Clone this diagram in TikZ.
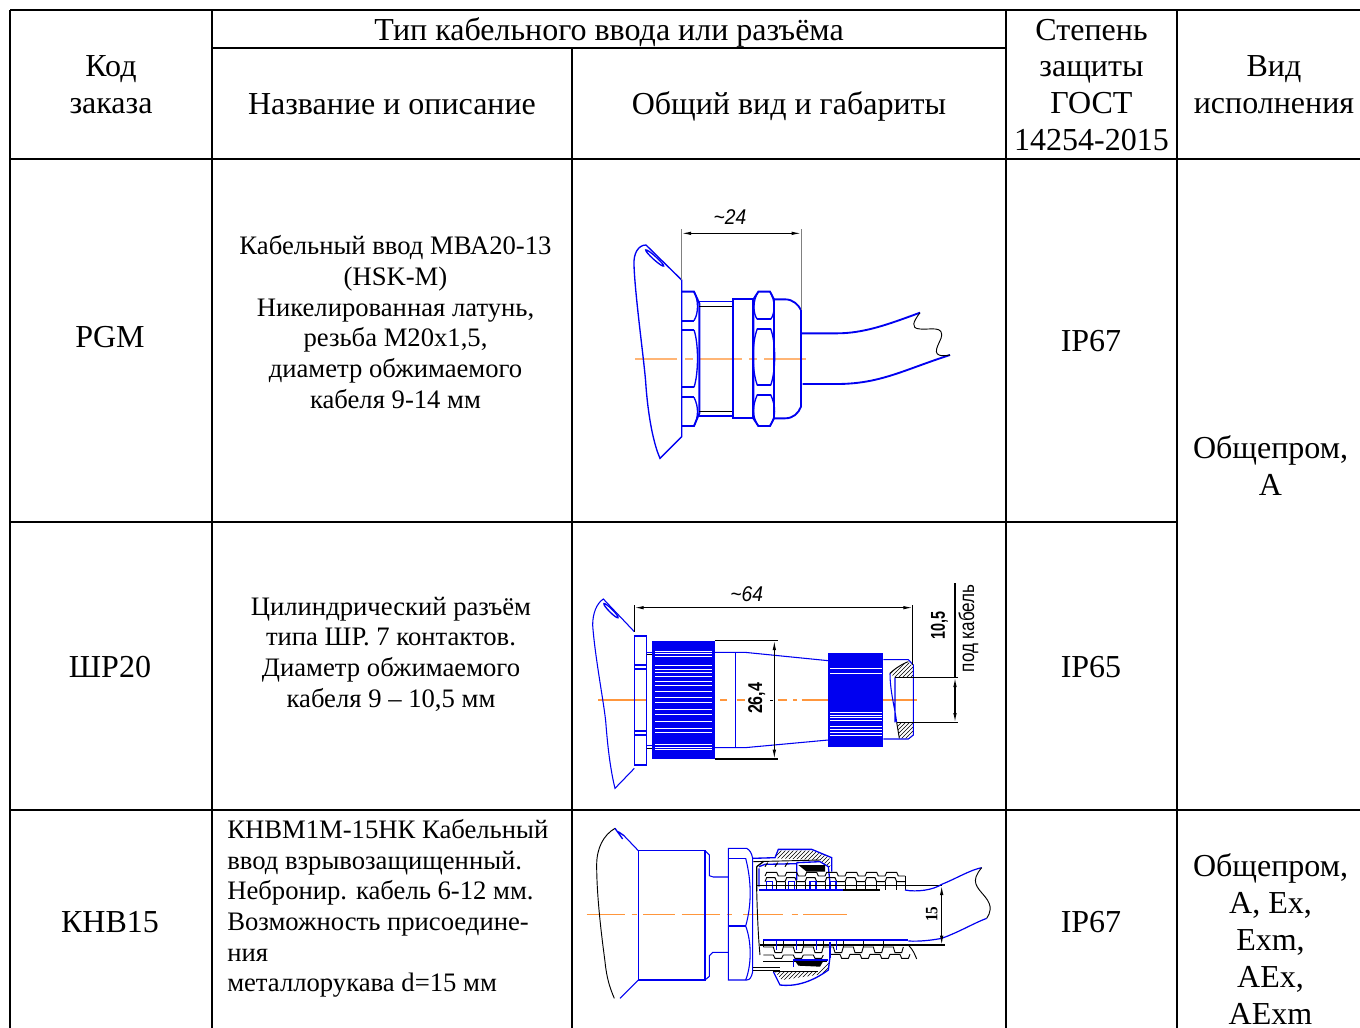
\documentclass[tikz,border=0pt]{standalone}
\usepackage{fontspec}
\setmainfont{Liberation Serif}
\setsansfont{Liberation Sans}
\usetikzlibrary{arrows.meta, patterns}
\definecolor{cadblue}{RGB}{0, 0, 240}
\definecolor{axisorange}{RGB}{255, 150, 60}
\tikzset{
    headtext/.style={align=center, inner sep=0pt, font=\fontsize{24}{27.7}\selectfont},
    celltext/.style={align=center, inner sep=0pt, font=\fontsize{20}{23}\selectfont},
    dimtext/.style={inner sep=0pt, font=\sffamily\itshape\fontsize{14}{14}\selectfont},
    dimupright/.style={inner sep=0pt, rotate=90, xscale=0.8, font=\sffamily\fontsize{16}{16}\selectfont},
    rule/.style={line width=1.4pt, black},
    cadline/.style={draw=cadblue, line width=1.4pt},
    cadmid/.style={draw=cadblue, line width=1pt},
    cadthin/.style={draw=cadblue, line width=0.8pt},
    blackthin/.style={draw=black, line width=0.7pt},
    dimline/.style={draw=black, line width=0.8pt, {Latex[length=7pt,width=2.6pt]}-{Latex[length=7pt,width=2.6pt]}},
    axis/.style={draw=axisorange, line width=0.8pt}
}
\begin{document}
\begin{tikzpicture}[x=0.75pt, y=-0.75pt]
    \useasboundingbox (0,0) rectangle (1360,1028);

    % Table rules
    \foreach \x/\ya in {10/10, 212/10, 572/48, 1006/10, 1177/10} {
        \draw[rule] (\x,\ya) -- (\x,1028);
    }
    \draw[rule] (10,10) -- (1360,10);
    \draw[rule] (212,48) -- (1006,48);
    \draw[rule] (10,159) -- (1360,159);
    \draw[rule] (10,522) -- (1177,522);
    \draw[rule] (10,810) -- (1360,810);

    % Header
    \node[headtext] (code) at (111,85) {Код\\заказа};
    \node[headtext] (type) at (609,32) {Тип кабельного ввода или разъёма};
    \node[headtext] (name) at (392,104) {Название и описание};
    \node[headtext] (view) at (789,106) {Общий вид и габариты};
    \node[headtext] (grade) at (1091.5,85) {Степень\\защиты\\ГОСТ\\14254-2015};
    \node[headtext] (exec) at (1274,85) {Вид\\исполнения};

    % Left column, right columns
    \node[headtext] (pgm) at (110,337) {PGM};
    \node[headtext] (shr) at (110,667) {ШР20};
    \node[headtext] (knv) at (110,922) {КНВ15};
    \node[headtext] (ipa) at (1091,341) {IP67};
    \node[headtext] (ipb) at (1091,667) {IP65};
    \node[headtext] (ipc) at (1091,922) {IP67};
    \node[headtext] (execa) at (1270.5,466) {Общепром,\\А};
    \node[headtext] (execb) at (1270.5,939) {Общепром,\\А, Ex,\\Exm,\\AEx,\\AExm};

    % Descriptions
    \node[celltext] (pgmtext) at (395.5,322) {Кабельный ввод МВА20-13\\(HSK-M)\\Никелированная латунь,\\резьба М20х1,5,\\диаметр обжимаемого\\кабеля 9-14 мм};
    \node[celltext] (shrtext) at (391,654) {Цилиндрический разъём\\типа ШР. 7 контактов.\\Диаметр обжимаемого\\кабеля 9 – 10,5 мм};
    \node[celltext, align=left, anchor=west] (knvtext) at (227,908.5) {КНВМ1М-15НК Кабельный\\ввод взрывозащищенный.\\Небронир. кабель 6-12 мм.\\Возможность присоедине-\\ния\\металлорукава d=15 мм};

    % Drawing PGM
    \begin{scope}[shift={(620,200)}, x=0.25pt, y=-0.25pt]
        \foreach \xa/\xb in {45/170, 195/218, 240/365, 388/410, 432/557} {
            \draw[axis, draw=axisorange!70] (\xa,477) -- (\xb,477);
        }
        \draw[cadmid] (185,240) -- (78,135) .. controls (55,135) and (40,160) .. (42,195)
            .. controls (45,290) and (75,500) .. (78,560) .. controls (85,650) and (100,730) .. (120,775) -- (185,710) -- cycle;
        \draw[cadmid, rotate around={-42:(104,174)}] (104,174) ellipse (36 and 5);
        % First nut
        \draw[cadline] (185,275) -- (222,275) -- (238,310) -- (238,640) -- (222,678) -- (185,678);
        \draw[cadline] (185,362) -- (222,362) (185,390) -- (222,390) (185,562) -- (222,562) (185,592) -- (222,592);
        \draw[cadmid] (222,275) .. controls (236,300) and (236,340) .. (222,362);
        \draw[cadmid] (222,390) .. controls (236,430) and (236,520) .. (222,562);
        \draw[cadmid] (222,592) .. controls (236,620) and (236,650) .. (222,678);
        % Thread
        \draw[cadmid] (238,305) -- (340,305) (238,648) -- (340,648);
        \draw[blackthin] (238,318) -- (340,318) (238,634) -- (340,634);
        % Collar and second nut
        \draw[cadline] (340,298) rectangle (400,655);
        \draw[cadline] (415,275) -- (450,275) -- (462,298) -- (462,655) -- (450,678) -- (415,678) -- (400,655) -- (400,298) -- cycle;
        \draw[cadline] (412,358) -- (452,358) (412,386) -- (452,386) (412,556) -- (452,556) (412,584) -- (452,584);
        \draw[cadmid] (415,275) .. controls (398,300) and (398,340) .. (412,358) (450,275) .. controls (466,300) and (466,340) .. (452,358);
        \draw[cadmid] (412,386) .. controls (395,430) and (395,510) .. (412,556) (452,386) .. controls (468,430) and (468,510) .. (452,556);
        \draw[cadmid] (412,584) .. controls (396,620) and (396,650) .. (415,678) (452,584) .. controls (468,620) and (468,650) .. (450,678);
        % Dome and cable
        \draw[cadline] (462,298) -- (495,298) .. controls (520,298) and (535,315) .. (543,330) -- (543,620)
            .. controls (535,640) and (520,655) .. (495,655) -- (462,655);
        \draw[cadline] (543,400) -- (650,400) .. controls (730,400) and (800,375) .. (900,338);
        \draw[cadline] (548,552) -- (650,552) .. controls (780,552) and (850,510) .. (990,465);
        \draw[blackthin] (900,338) .. controls (880,365) and (870,385) .. (900,387) .. controls (930,390) and (975,375) .. (963,415)
            .. controls (950,445) and (930,475) .. (990,465);
        % Dimension
        \draw[draw=gray, line width=0.7pt] (185,88) -- (185,240) (543,88) -- (543,330);
        \draw[dimline] (185,100) -- (543,100);
        \node[dimtext, xscale=0.9, font=\sffamily\itshape\fontsize{16}{16}\selectfont] (dima) at (330,52) {\~{}24};
    \end{scope}

    % Drawing SHR
    \begin{scope}[shift={(580,575)}, x=0.25pt, y=-0.25pt]
        \foreach \xa/\xb in {55/197, 420/440, 470/495, 595/620, 640/650, 665/745, 910/1012} {
            \draw[axis] (\xa,375) -- (\xb,375);
        }
        \draw[cadthin] (163,170) -- (70,72) .. controls (50,85) and (38,115) .. (38,150)
            .. controls (45,250) and (75,400) .. (78,450) .. controls (85,540) and (95,600) .. (105,640) -- (163,580);
        \draw[cadmid, rotate around={-45:(93,107)}] (93,107) ellipse (30 and 5);
        % Flange
        \draw[cadthin] (163,183) rectangle (200,570);
        \foreach \y in {270,282,468,480} {
            \draw[cadthin] (163,\y) -- (200,\y);
        }
        \draw[cadthin] (200,232) -- (217,232) (200,512) -- (217,512);
        \draw[blackthin] (200,238) -- (217,238) (200,520) -- (217,520);
        % Knurled nut
        \fill[cadblue] (217,197) rectangle (405,552);
        \foreach \y in {228,236,245,272,284,292,305,318,332,350,368,382,403,418,438,460,472,508,516,524} {
            \draw[white, line width=0.7pt] (225,\y) -- (395,\y);
        }
        \draw[cadthin] (405,232) -- (495,232) -- (745,257);
        \draw[cadthin] (405,518) -- (495,518) -- (745,495);
        \draw[cadthin] (467,232) -- (467,518);
        \draw[blackthin, line width=0.8pt] (405,197) -- (595,197) (405,552) -- (595,552);
        \draw[dimline] (583,197) -- (583,552);
        \draw[blackthin] (570,375) -- (580,375);
        % Second knurled nut
        \fill[cadblue] (745,235) rectangle (910,515);
        \foreach \y in {280,296,412,420,427,435,455,463,472,482} {
            \draw[white, line width=0.7pt] (750,\y) -- (905,\y);
        }
        % End cap
        \fill[pattern=north east lines] (930,295) .. controls (945,280) and (970,265) .. (985,260) -- (1000,275) -- (1000,308) -- (945,308) -- cycle;
        \fill[pattern=north east lines] (950,442) -- (1000,442) -- (1000,480) -- (990,490) -- (958,490) -- cycle;
        \draw[cadthin] (910,254) -- (985,254) -- (1000,270) -- (1000,480) -- (985,492) -- (910,492);
        \draw[cadthin] (930,295) .. controls (930,350) and (945,400) .. (950,442) (945,308) -- (945,442);
        \draw[blackthin] (930,295) .. controls (945,280) and (970,265) .. (985,260) (958,490) -- (950,442);
        % Dimensions
        \draw[blackthin, line width=0.8pt] (163,90) -- (163,170) (998,90) -- (998,270);
        \draw[dimline] (163,98) -- (998,98);
        \draw[blackthin, line width=0.8pt] (945,308) -- (1135,308) (950,442) -- (1135,442) (1125,25) -- (1125,308);
        \draw[dimline] (1125,308) -- (1125,442);
        \node[dimtext, xscale=0.9, font=\sffamily\itshape\fontsize{16}{16}\selectfont] (dimb) at (500,58) {\~{}64};
        \node[dimupright, font=\sffamily\bfseries\fontsize{15}{15}\selectfont] (dimc) at (530,370) {26,4};
        \node[dimupright, xscale=0.9, font=\sffamily\bfseries\fontsize{15}{15}\selectfont] (dimd) at (1078,150) {10,5};
        \node[dimupright] (dime) at (1165,160) {под кабель};
    \end{scope}

    % Drawing KNV
    \begin{scope}[shift={(580,815)}, x=0.25pt, y=-0.25pt]
        \foreach \xa/\xb in {20/135, 155/170, 190/285, 305/420, 440/455, 490/610, 635/655, 670/800} {
            \draw[axis] (\xa,298) -- (\xb,298);
        }
        % Lever
        \draw[blackthin] (105,40) .. controls (70,60) and (50,100) .. (50,150) .. controls (50,260) and (70,400) .. (75,440) .. controls (80,490) and (90,520) .. (103,550);
        \draw[cadthin] (130,60) -- (175,107) (120,550) -- (175,495);
        \draw[cadmid] (105,40) -- (128,72) (115,50) -- (132,62);
        % Body
        \draw[cadthin] (175,107) rectangle (375,495);
        \draw[cadthin] (375,107) -- (388,120) -- (388,182) -- (400,186) -- (445,186);
        \draw[cadthin] (375,495) -- (388,484) -- (388,422) -- (398,412) -- (445,412);
        % Hex nut
        \draw[cadthin] (445,100) -- (500,100) .. controls (510,105) and (515,115) .. (518,130) -- (518,470)
            .. controls (515,485) and (510,495) .. (500,495) -- (445,495) -- cycle;
        \draw[cadthin] (445,130) -- (497,130) (445,333) -- (497,333);
        \draw[cadthin] (497,130) .. controls (515,200) and (515,270) .. (497,333) .. controls (515,380) and (515,450) .. (497,495);
        % Coupling nut, top
        \fill[pattern=north east lines] (585,130) -- (595,107) -- (695,107) -- (748,127) -- (752,160) -- (720,135) -- cycle;
        \draw[cadmid] (518,130) -- (585,128) -- (595,103) -- (695,103) -- (755,128) -- (755,170);
        \draw[blackthin] (520,140) -- (720,135);
        \draw[cadmid] (650,143) -- (720,140) -- (745,155) -- (750,205) (650,143) -- (650,195);
        \draw[blackthin, line width=1pt] (530,155) -- (550,140) (530,155) -- (530,228);
        \draw[cadmid] (537,155) -- (555,148) -- (650,146) (537,160) -- (537,215);
        \foreach \x in {555,585,615} {
            \draw[blackthin] (\x,155) -- (\x+8,143);
        }
        \fill[black] (655,150) -- (735,150) -- (735,170) -- (680,170) -- cycle;
        % Coupling nut, bottom
        \fill[pattern=north east lines] (585,470) -- (715,470) -- (750,440) -- (742,470) -- (710,480) -- (605,495) -- cycle;
        \draw[cadmid] (580,470) -- (600,510) .. controls (640,515) and (690,505) .. (745,465) -- (750,425);
        \draw[blackthin] (518,458) -- (600,458) (518,467) -- (600,467) (550,438) -- (740,438) (580,470) -- (715,470);
        \draw[cadmid] (640,435) -- (745,435) (640,435) -- (640,455);
        \fill[black] (645,438) -- (730,438) -- (720,455) -- (655,452) -- cycle;
        % Corrugated hose, top
        \foreach \x in {555,615,675,735,795,855,915} {
            \draw[blackthin] (\x,183) -- (\x+5,172) -- (\x+35,172) -- (\x+40,183) -- (\x+60,183);
            \draw[blackthin] (\x,200) -- (\x+5,188) -- (\x+30,188) -- (\x+35,200) -- (\x+60,200);
            \draw[blackthin] (\x+35,200) -- (\x+35,226) (\x+60,200) -- (\x+60,226);
        }
        \draw[blackthin] (975,183) -- (975,212);
        \draw[cadmid] (537,225) -- (790,225);
        \foreach \x in {560,625,690,750} {
            \draw[cadmid] (\x,200) rectangle (\x+18,225);
        }
        % Cable
        \draw[blackthin, line width=0.8pt] (530,212) -- (1085,212) (540,390) -- (1095,390) (790,225) -- (900,225);
        \draw[cadthin, line width=0.9pt] (975,225) .. controls (1010,232) and (1060,225) .. (1085,208) .. controls (1130,190) and (1170,165) .. (1205,158);
        \draw[cadthin, line width=0.9pt] (985,378) .. controls (1020,380) and (1060,375) .. (1085,370) .. controls (1140,350) and (1180,325) .. (1220,310);
        \draw[blackthin] (1205,158) .. controls (1170,200) and (1190,215) .. (1215,245) .. controls (1240,275) and (1230,295) .. (1220,310);
        \draw[blackthin] (530,225) .. controls (532,300) and (535,370) .. (540,420);
        \draw[cadthin] (518,130) -- (518,470);
        % Corrugated hose, bottom
        \draw[cadmid] (550,375) -- (985,375);
        \foreach \x in {550,610,670,730,790,850,910} {
            \draw[blackthin] (\x,396) -- (\x+30,396) -- (\x+35,413) -- (\x+55,413) -- (\x+60,396);
            \draw[blackthin] (\x,378) -- (\x,396);
        }
        \foreach \x in {550,610,670} {
            \draw[blackthin] (\x,420) -- (\x+30,420) -- (\x+35,430) -- (\x+55,430) -- (\x+60,420);
        }
        \foreach \x in {750,810,870,930} {
            \draw[blackthin] (\x,418) -- (\x+30,418) -- (\x+35,430) -- (\x+55,430) -- (\x+60,418);
        }
        \draw[blackthin] (985,390) .. controls (1000,405) and (1005,420) .. (1010,432);
        \foreach \x in {590,650,710,770} {
            \draw[cadmid] (\x,378) -- (\x,405);
        }
        \draw[cadmid] (750,380) -- (750,430);
        % Dimension
        \draw[dimline] (1085,212) -- (1085,390);
        \node[dimupright, xscale=1.1, font=\rmfamily\bfseries\fontsize{13}{13}\selectfont] (dimf) at (1055,298) {15};
    \end{scope}
\end{tikzpicture}
\end{document}
